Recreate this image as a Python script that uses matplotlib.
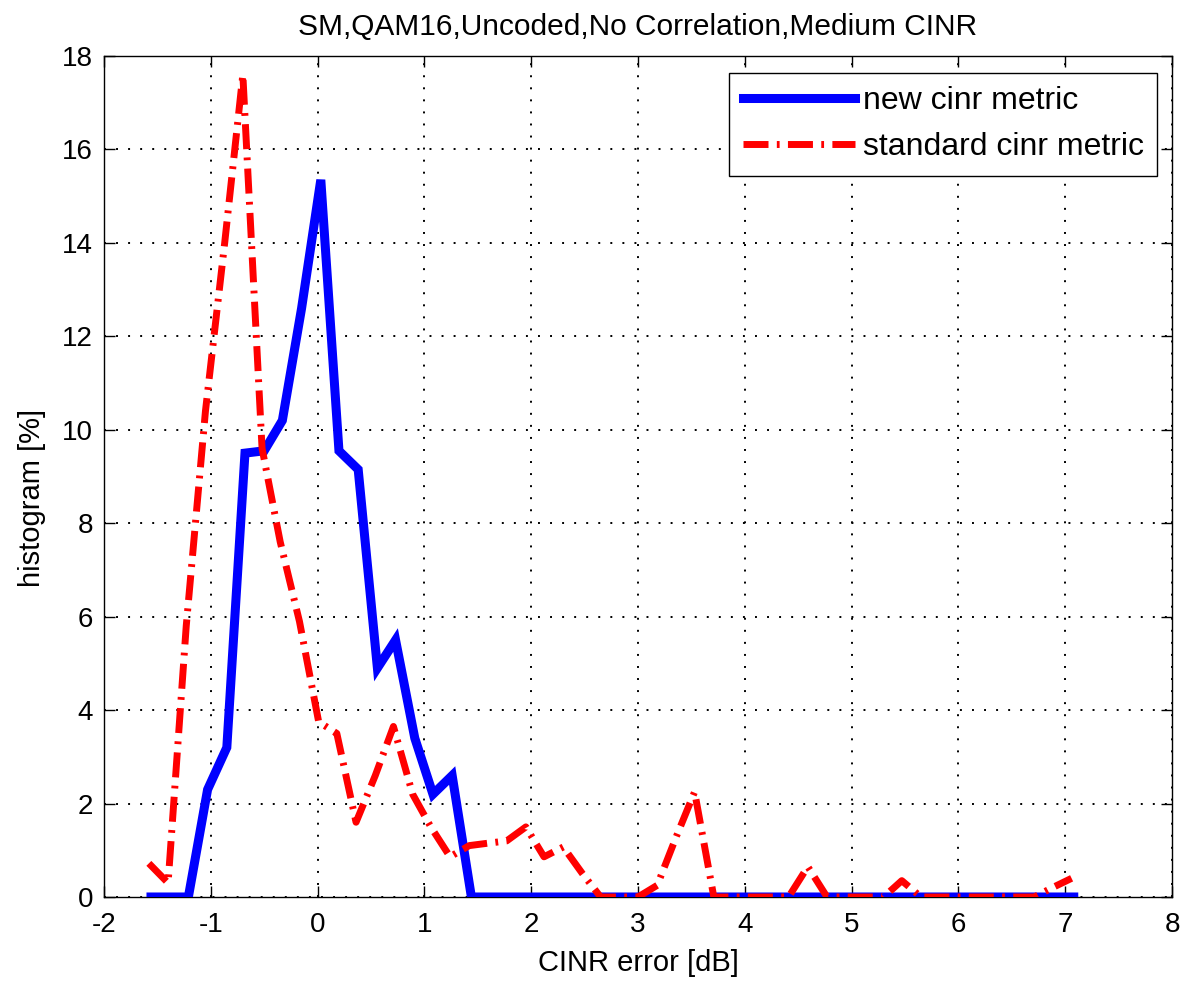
import matplotlib
matplotlib.use("Agg")
import matplotlib.pyplot as plt

plt.rcParams['font.family'] = ['Liberation Sans', 'DejaVu Sans']

# bin centres
x_new = [-1.56, -1.38, -1.21, -1.03, -0.85, -0.68, -0.50, -0.33, -0.15, 0.03,
         0.20, 0.38, 0.56, 0.73, 0.91, 1.08, 1.26, 1.44, 1.61, 1.79,
         1.97, 2.14, 2.32, 2.50, 2.67, 2.85, 3.02, 3.20, 3.38, 3.55,
         3.73, 3.91, 4.08, 4.26, 4.43, 4.61, 4.79, 4.96, 5.14, 5.32,
         5.49, 5.67, 5.84, 6.02, 6.20, 6.37, 6.55, 6.73, 6.90, 7.08]
y_new = [0, 0, 0, 2.3, 3.2, 9.5, 9.55, 10.2, 12.6, 15.35,
         9.55, 9.15, 4.9, 5.5, 3.4, 2.2, 2.6, 0, 0, 0,
         0, 0, 0, 0, 0, 0, 0, 0, 0, 0,
         0, 0, 0, 0, 0, 0, 0, 0, 0, 0,
         0, 0, 0, 0, 0, 0, 0, 0, 0, 0]

x_std = [-1.58, -1.40, -1.23, -1.05, -0.87, -0.70, -0.52, -0.35, -0.17, 0.01,
         0.18, 0.36, 0.54, 0.71, 0.89, 1.06, 1.24, 1.42, 1.59, 1.77,
         1.95, 2.12, 2.30, 2.48, 2.65, 2.83, 3.00, 3.18, 3.36, 3.53,
         3.71, 3.89, 4.06, 4.24, 4.41, 4.59, 4.77, 4.94, 5.12, 5.30,
         5.47, 5.65, 5.83, 6.00, 6.18, 6.35, 6.53, 6.71, 6.88, 7.06]
y_std = [0.72, 0.3, 5.8, 10.4, 14.0, 17.6, 9.6, 7.6, 5.9, 3.75,
         3.5, 1.6, 2.6, 3.65, 2.2, 1.5, 0.86, 1.1, 1.15, 1.2,
         1.5, 0.86, 1.07, 0.5, 0, 0, 0, 0.25, 1.3, 2.25,
         0, 0, 0, 0, 0, 0.65, 0, 0, 0, 0,
         0.35, 0, 0, 0, 0, 0, 0, 0, 0.2, 0.4]

labels = ['new cinr metric', 'standard cinr metric']
title = 'SM,QAM16,Uncoded,No Correlation,Medium CINR'
xlabel = 'CINR error [dB]'
ylabel = 'histogram [%]'
xticks = list(range(-2, 9))
yticks = list(range(0, 19, 2))

fig = plt.figure(figsize=(11.86, 9.84), dpi=100)
ax = fig.add_axes([104/1186, 1-897/984, (1172-104)/1186, (897-56)/984])

ax.plot(x_new, y_new, color='#0000ff', lw=6.5, solid_joinstyle='miter',
        label=labels[0], zorder=3)
ax.plot(x_std, y_std, color='#ff0000', lw=5.0, dashes=(3.6, 1.2, 0.4, 1.2),
        dash_capstyle='butt', label=labels[1], zorder=4)

ax.set_xlim(-2, 8)
ax.set_ylim(0, 18)
ax.set_xticks(xticks)
ax.set_yticks(yticks)
ax.set_xticklabels([str(v) for v in xticks])
ax.set_yticklabels([str(v) for v in yticks])
ax.grid(True, color='black', linestyle=(0, (1, 5.2)), linewidth=1.4)
ax.set_axisbelow(True)
ax.tick_params(direction='in', length=8, width=1, top=True, right=True,
               labelsize=20)
ax.tick_params(axis='x', pad=11)
ax.tick_params(axis='y', pad=8)
for s in ax.spines.values():
    s.set_linewidth(1.0)

ax.set_title(title, fontsize=21.5, pad=15)
ax.set_xlabel(xlabel, fontsize=21, labelpad=8)
ax.set_ylabel(ylabel, fontsize=21)
ax.yaxis.set_label_coords(-0.054, 0.475)

leg = ax.legend(loc='upper right', bbox_to_anchor=(1157/1186, 1-73/984),
                bbox_transform=fig.transFigure, borderaxespad=0,
                fontsize=23, handlelength=3.5, handletextpad=0.25,
                labelspacing=0.5, borderpad=0.42, fancybox=False,
                framealpha=1, edgecolor='black')
leg.get_frame().set_linewidth(1.0)

fig.savefig('out.png', dpi=100)
